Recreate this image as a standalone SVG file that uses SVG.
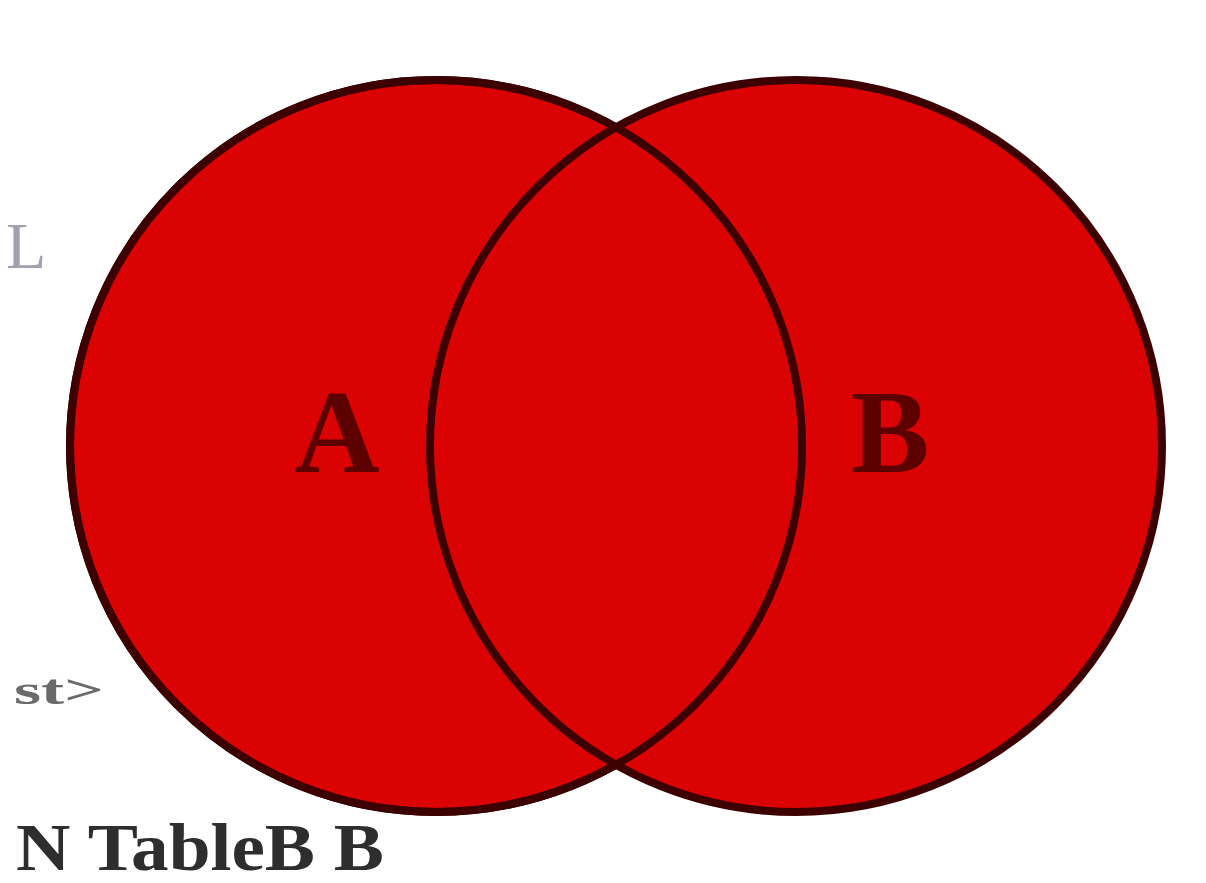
<svg xmlns="http://www.w3.org/2000/svg" width="1206" height="883" viewBox="0 0 1206 883">
  <style>
    .set { fill: #da0202; stroke: #3d0000; stroke-width: 8; }
    .outline { fill: none; stroke: #3d0000; stroke-width: 8; }
    .lbl { font-family: "Liberation Serif", "Times New Roman", serif; font-weight: bold; fill: #5c0000; font-size: 118px; text-anchor: middle; }
    .cap { font-family: "Liberation Serif", "Times New Roman", serif; font-weight: bold; }
  </style>
  <rect width="1206" height="883" fill="#ffffff"/>
  <g id="setA">
    <circle class="set" cx="436" cy="446" r="366"/>
  </g>
  <g id="setB">
    <circle class="set" cx="796" cy="446" r="366"/>
  </g>
  <g id="outlines">
    <circle class="outline" cx="436" cy="446" r="366"/>
  </g>
  <g id="labelA"><text class="lbl" x="337" y="472">A</text></g>
  <g id="labelB"><text class="lbl" x="890" y="472">B</text></g>
  <text x="6" y="268" style="font-family: 'Liberation Serif', serif; font-size: 66px; fill: #a0a0b0;">L</text>
  <text class="cap" x="14" y="704" textLength="90" lengthAdjust="spacingAndGlyphs" style="font-size: 42px; fill: #6a6a6a;">st&gt;</text>
  <text class="cap" x="16" y="870" textLength="368" lengthAdjust="spacingAndGlyphs" style="font-size: 68px; fill: #2e2e2e;">N TableB B</text>
</svg>
